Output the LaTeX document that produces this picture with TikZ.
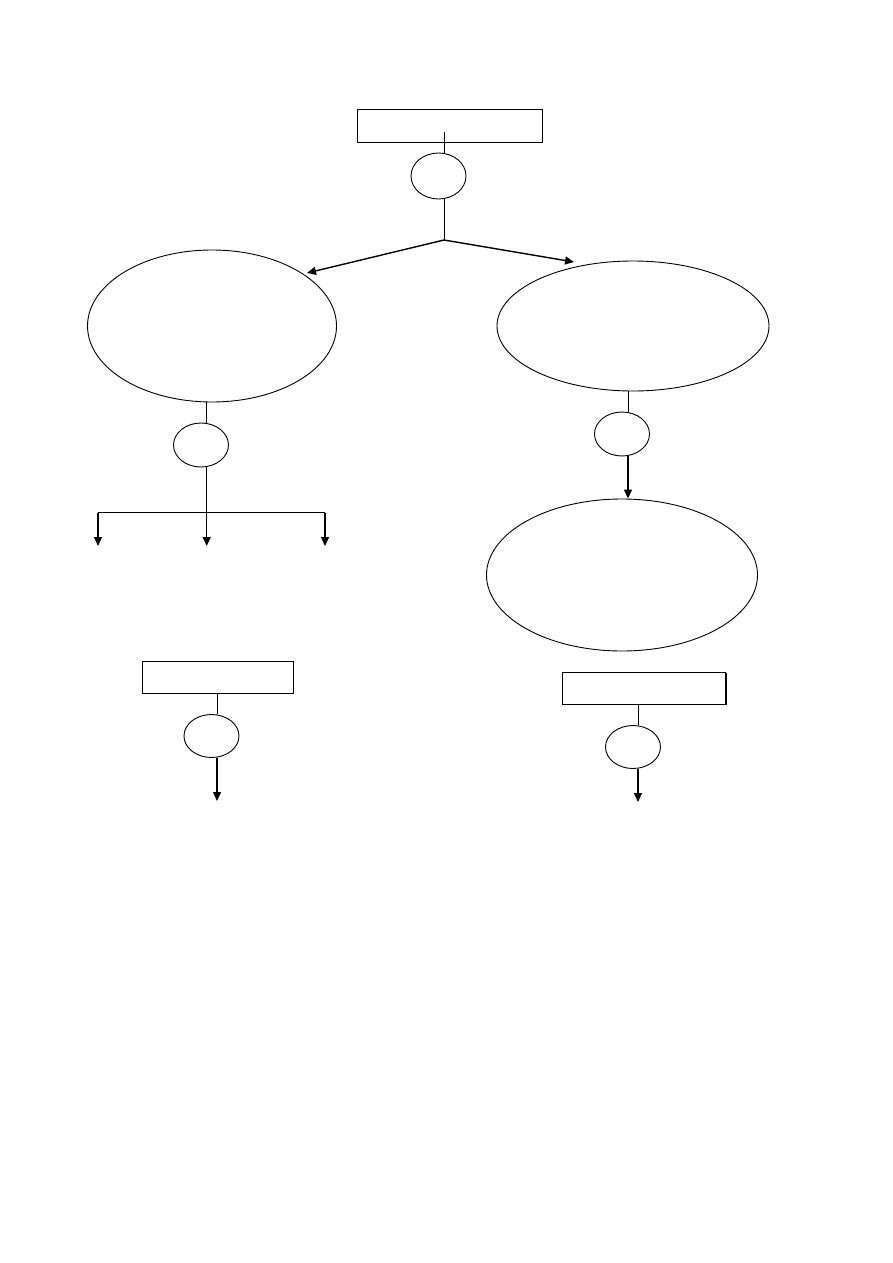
\documentclass[tikz,border=0pt]{standalone}
\usetikzlibrary{shapes.geometric,arrows.meta,shadows}

\tikzset{
  flowbox/.style={draw,rectangle,fill=white,inner sep=0pt,line width=.9pt},
  shadowbox/.style={flowbox,drop shadow={shadow xshift=1.3pt,shadow yshift=-1.3pt,fill=black,opacity=1}},
  bigoval/.style={draw,ellipse,inner sep=0pt,line width=.9pt},
  knob/.style={draw,ellipse,inner sep=0pt,line width=.9pt,minimum width=55pt,minimum height=44pt},
  link/.style={line width=.9pt},
  arr/.style={line width=1.4pt,-{Triangle[length=9pt,width=8pt]}}
}

\begin{document}
\begin{tikzpicture}[x=1pt,y=-1pt]
    \useasboundingbox (0,0) rectangle (893,1263);

    % top
    \node[flowbox,minimum width=185pt,minimum height=33pt] (top) at (449.5,125.5) {};
    \node[knob,minimum height=46pt] (topknob) at (438.5,176) {};
    \coordinate (topin) at (444,132);
    \coordinate (split) at (444,240);
    \draw[link] (topin) -- (topin |- topknob.north);
    \draw[link] (split |- topknob.south) -- (split);

    \node[bigoval,minimum width=249pt,minimum height=152pt] (left) at (212,326) {};
    \node[bigoval,minimum width=272pt,minimum height=130pt] (right) at (633,326) {};
    \coordinate (lefttip) at (307,273);
    \coordinate (righttip) at (574,262);
    \draw[arr] (split) -- (lefttip);
    \draw[arr] (split) -- (righttip);

    % left branch
    \node[knob] (leftknob) at (201,445) {};
    \coordinate (leftbar) at (206.7,512.7);
    \draw[link] (leftbar |- left.south) -- (leftbar |- leftknob.north);
    \draw[link] (leftbar |- leftknob.south) -- (leftbar);
    \draw[link] (98,512.7) -- (325,512.7);
    \foreach \x in {98,206.7,325}{
      \draw[arr] (\x,512.7) -- (\x,546);
    }

    % right branch
    \node[knob] (rightknob) at (622,434) {};
    \node[bigoval,minimum width=271pt,minimum height=152pt] (low) at (622,575) {};
    \coordinate (rightline) at (628,391);
    \draw[link] (rightline |- right.south) -- (rightline |- rightknob.north);
    \draw[arr] (rightline |- rightknob.south) -- (rightline |- low.north);

    % bottom left
    \node[shadowbox,minimum width=151pt,minimum height=32pt] (boxl) at (217.5,677) {};
    \node[knob,minimum height=43pt] (knobl) at (211.5,736) {};
    \coordinate (endl) at (217,801);
    \draw[link] (endl |- boxl.south) -- (endl |- knobl.north);
    \draw[arr] (endl |- knobl.south) -- (endl);

    % bottom right
    \node[shadowbox,minimum width=163pt,minimum height=32pt] (boxr) at (644,688) {};
    \node[knob,minimum height=43pt] (knobr) at (633,747) {};
    \coordinate (endr) at (638,802);
    \draw[link] (endr |- boxr.south) -- (endr |- knobr.north);
    \draw[arr] (endr |- knobr.south) -- (endr);
\end{tikzpicture}
\end{document}
